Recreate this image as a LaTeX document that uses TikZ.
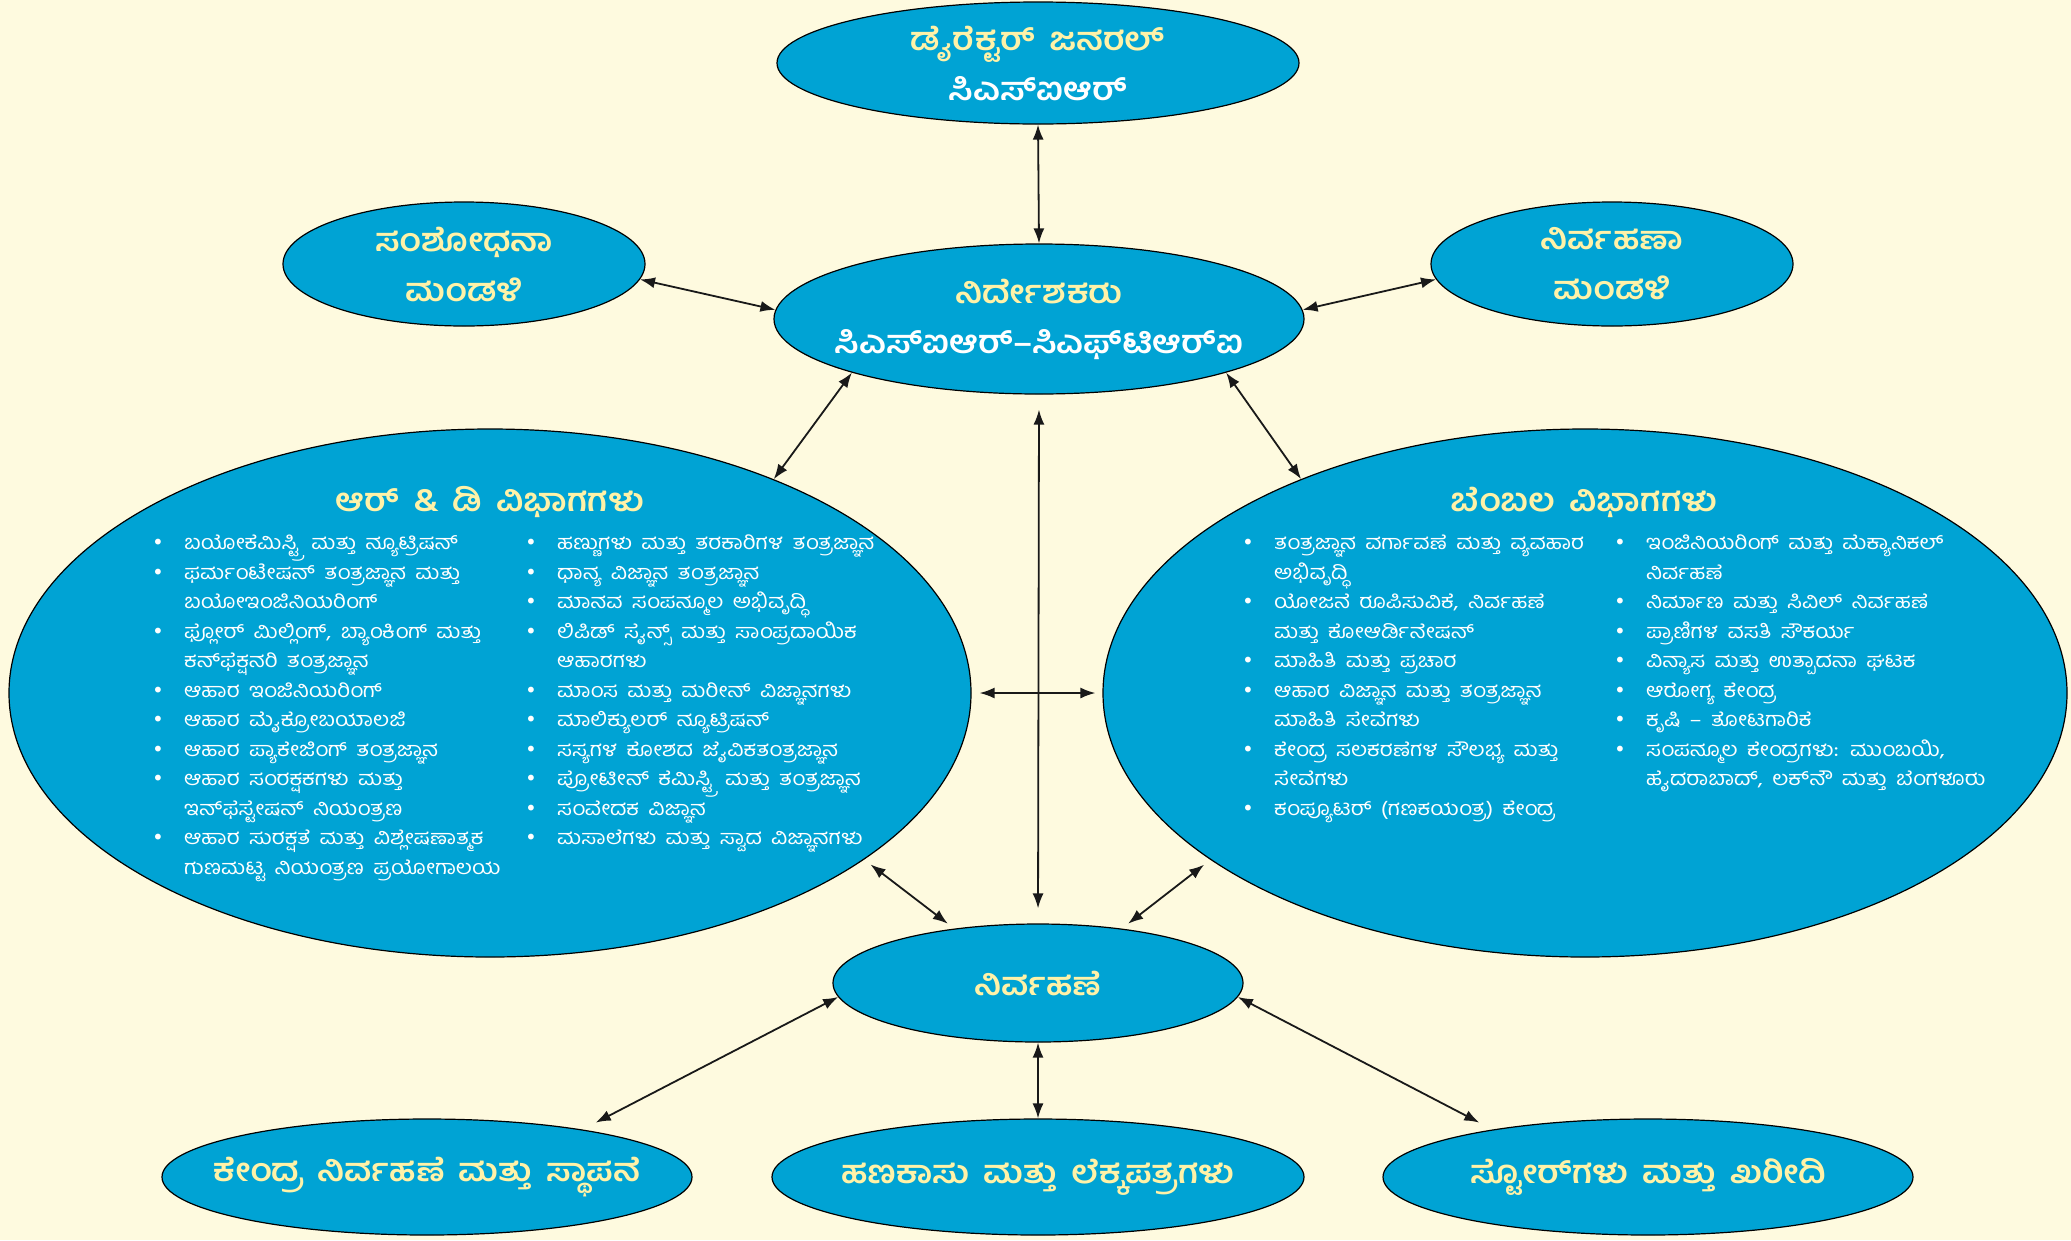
\documentclass[tikz,border=0pt]{standalone}
\usepackage{fontspec}
\usetikzlibrary{shapes.geometric,arrows.meta}
\newfontfamily\kn[Script=Kannada,FakeStretch=1.12,WordSpace=1.7]{Hind Mysuru}
\newfontfamily\knh[Script=Kannada,FakeStretch=1.1,WordSpace=1.6]{Hind Mysuru}
\newfontfamily\dv{DejaVu Sans}
\definecolor{bg}{HTML}{FEFADF}
\definecolor{ell}{HTML}{00A3D4}
\definecolor{ylw}{HTML}{FFF2A8}
\newcommand\hfnt{\knh\bfseries\fontsize{32}{50}\selectfont}
\newcommand\lfnt{\kn\fontsize{20}{29.5}\selectfont}
\newcommand\bul{\makebox[32pt][l]{\dv\fontsize{20}{20}\selectfont •}}
\newcommand\cnt{\makebox[32pt]{}}
\tikzset{
 oval/.style={ellipse, draw=black, line width=1.2pt, fill=ell, inner sep=0pt},
 head/.style={inner sep=0pt, align=center, text=ylw, font=\hfnt},
 lst/.style={anchor=north west, inner sep=0pt, align=left, text=white, font=\lfnt},
 arr/.style={{Latex[length=15pt,width=11pt]}-{Latex[length=15pt,width=11pt]}, line width=1.8pt, draw=black!90}
}
\begin{document}
\begin{tikzpicture}[x=1pt,y=-1pt]
\fill[bg] (0,0) rectangle (2071,1240);
\useasboundingbox (0,0) rectangle (2071,1240);

\node[oval, minimum width=522pt, minimum height=122pt] (dg) at (1038,63) {};
\node[oval, minimum width=530pt, minimum height=150pt] (dir) at (1039,319) {};
\node[oval, minimum width=362pt, minimum height=124pt] (rb) at (464,264) {};
\node[oval, minimum width=362pt, minimum height=124pt] (mb) at (1612,264) {};
\node[oval, minimum width=962pt, minimum height=528pt] (rd) at (490,693) {};
\node[oval, minimum width=964pt, minimum height=528pt] (sp) at (1585,693) {};
\node[oval, minimum width=410pt, minimum height=118pt] (adm) at (1038,983) {};
\node[oval, minimum width=530pt, minimum height=116pt] (bl) at (427,1177) {};
\node[oval, minimum width=532pt, minimum height=116pt] (bm) at (1038,1177) {};
\node[oval, minimum width=530pt, minimum height=116pt] (br) at (1648,1177) {};

\node[head] (dgt) at (dg) {ಡೈರೆಕ್ಟರ್ ಜನರಲ್\\\textcolor{white}{ಸಿಎಸ್^^^^200cಐಆರ್}};
\node[head] (dirt) at (dir) {ನಿರ್ದೇಶಕರು\\\textcolor{white}{ಸಿಎಸ್^^^^200cಐಆರ್–ಸಿಎಫ್^^^^200cಟಿಆರ್^^^^200cಐ}};
\node[head] (rbt) at (rb) {ಸಂಶೋಧನಾ\\ಮಂಡಳಿ};
\node[head] (mbt) at (mb) {ನಿರ್ವಹಣಾ\\ಮಂಡಳಿ};
\node[head] (admt) at (adm) {ನಿರ್ವಹಣೆ};
\node[head] (blt) at (bl) {ಕೇಂದ್ರ ನಿರ್ವಹಣೆ ಮತ್ತು ಸ್ಥಾಪನೆ};
\node[head] (bmt) at (bm) {ಹಣಕಾಸು ಮತ್ತು ಲೆಕ್ಕಪತ್ರಗಳು};
\node[head] (brt) at (br) {ಸ್ಟೋರ್^^^^200cಗಳು ಮತ್ತು ಖರೀದಿ};

\node[head] (rdh) at (490,502) {ಆರ್ \& ಡಿ ವಿಭಾಗಗಳು};
\node[head] (sph) at (1584,502) {ಬೆಂಬಲ ವಿಭಾಗಗಳು};

\node[lst] (rdl) at (152,535) {\bul ಬಯೋಕೆಮಿಸ್ಟ್ರಿ ಮತ್ತು ನ್ಯೂಟ್ರಿಷನ್\\
\bul ಫರ್ಮಂಟೇಷನ್ ತಂತ್ರಜ್ಞಾನ ಮತ್ತು\\
\cnt ಬಯೋಇಂಜಿನಿಯರಿಂಗ್\\
\bul ಫ್ಲೋರ್ ಮಿಲ್ಲಿಂಗ್, ಬ್ಯಾಂಕಿಂಗ್ ಮತ್ತು\\
\cnt ಕನ್^^^^200cಫೆಕ್ಷನರಿ ತಂತ್ರಜ್ಞಾನ\\
\bul ಆಹಾರ ಇಂಜಿನಿಯರಿಂಗ್\\
\bul ಆಹಾರ ಮೈಕ್ರೋಬಯಾಲಜಿ\\
\bul ಆಹಾರ ಪ್ಯಾಕೇಜಿಂಗ್ ತಂತ್ರಜ್ಞಾನ\\
\bul ಆಹಾರ ಸಂರಕ್ಷಕಗಳು ಮತ್ತು\\
\cnt ಇನ್^^^^200cಫೆಸ್ಟೇಷನ್ ನಿಯಂತ್ರಣ\\
\bul ಆಹಾರ ಸುರಕ್ಷತೆ ಮತ್ತು ವಿಶ್ಲೇಷಣಾತ್ಮಕ\\
\cnt ಗುಣಮಟ್ಟ ನಿಯಂತ್ರಣ ಪ್ರಯೋಗಾಲಯ};

\node[lst] (rdr) at (525,535) {\bul ಹಣ್ಣುಗಳು ಮತ್ತು ತರಕಾರಿಗಳ ತಂತ್ರಜ್ಞಾನ\\
\bul ಧಾನ್ಯ ವಿಜ್ಞಾನ ತಂತ್ರಜ್ಞಾನ\\
\bul ಮಾನವ ಸಂಪನ್ಮೂಲ ಅಭಿವೃದ್ಧಿ\\
\bul ಲಿಪಿಡ್ ಸೈನ್ಸ್ ಮತ್ತು ಸಾಂಪ್ರದಾಯಿಕ\\
\cnt ಆಹಾರಗಳು\\
\bul ಮಾಂಸ ಮತ್ತು ಮರೀನ್ ವಿಜ್ಞಾನಗಳು\\
\bul ಮಾಲಿಕ್ಯುಲರ್ ನ್ಯೂಟ್ರಿಷನ್\\
\bul ಸಸ್ಯಗಳ ಕೋಶದ ಜೈವಿಕತಂತ್ರಜ್ಞಾನ\\
\bul ಪ್ರೋಟೀನ್ ಕೆಮಿಸ್ಟ್ರಿ ಮತ್ತು ತಂತ್ರಜ್ಞಾನ\\
\bul ಸಂವೇದಕ ವಿಜ್ಞಾನ\\
\bul ಮಸಾಲೆಗಳು ಮತ್ತು ಸ್ವಾದ ವಿಜ್ಞಾನಗಳು};

\node[lst] (spl) at (1242,535) {\bul ತಂತ್ರಜ್ಞಾನ ವರ್ಗಾವಣೆ ಮತ್ತು ವ್ಯವಹಾರ\\
\cnt ಅಭಿವೃದ್ಧಿ\\
\bul ಯೋಜನೆ ರೂಪಿಸುವಿಕೆ, ನಿರ್ವಹಣೆ\\
\cnt ಮತ್ತು ಕೋಆರ್ಡಿನೇಷನ್\\
\bul ಮಾಹಿತಿ ಮತ್ತು ಪ್ರಚಾರ\\
\bul ಆಹಾರ ವಿಜ್ಞಾನ ಮತ್ತು ತಂತ್ರಜ್ಞಾನ\\
\cnt ಮಾಹಿತಿ ಸೇವೆಗಳು\\
\bul ಕೇಂದ್ರ ಸಲಕರಣೆಗಳ ಸೌಲಭ್ಯ ಮತ್ತು\\
\cnt ಸೇವೆಗಳು\\
\bul ಕಂಪ್ಯೂಟರ್ (ಗಣಕಯಂತ್ರ) ಕೇಂದ್ರ};

\node[lst] (spr) at (1614,535) {\bul ಇಂಜಿನಿಯರಿಂಗ್ ಮತ್ತು ಮೆಕ್ಯಾನಿಕಲ್\\
\cnt ನಿರ್ವಹಣೆ\\
\bul ನಿರ್ಮಾಣ ಮತ್ತು ಸಿವಿಲ್ ನಿರ್ವಹಣೆ\\
\bul ಪ್ರಾಣಿಗಳ ವಸತಿ ಸೌಕರ್ಯ\\
\bul ವಿನ್ಯಾಸ ಮತ್ತು ಉತ್ಪಾದನಾ ಘಟಕ\\
\bul ಆರೋಗ್ಯ ಕೇಂದ್ರ\\
\bul ಕೃಷಿ – ತೋಟಗಾರಿಕೆ\\
\bul ಸಂಪನ್ಮೂಲ ಕೇಂದ್ರಗಳು: ಮುಂಬಯಿ,\\
\cnt ಹೈದರಾಬಾದ್, ಲಕ್^^^^200cನೌ ಮತ್ತು ಬೆಂಗಳೂರು};

\draw[arr] (dg.south) -- (dir.north);
\draw[arr] (rb.-5) -- (dir.178);
\draw[arr] (dir.2) -- (mb.185);
\draw[arr] (dir.196) -- (rd.37);
\draw[arr] (dir.-16) -- (sp.143);
\draw[arr, shorten <=15pt, shorten >=15pt] (dir.south) -- (adm.north);
\draw[arr, shorten <=8pt, shorten >=7pt] (rd.east) -- (sp.west);
\draw[arr, shorten <=8pt, shorten >=8pt] (rd.-24) -- (adm.147);
\draw[arr, shorten <=8pt, shorten >=8pt] (sp.204) -- (adm.33);
\draw[arr, shorten >=15pt] (adm.184) -- (bl.17);
\draw[arr] (adm.south) -- (bm.north);
\draw[arr, shorten >=15pt] (adm.-4) -- (br.163);
\end{tikzpicture}
\end{document}
